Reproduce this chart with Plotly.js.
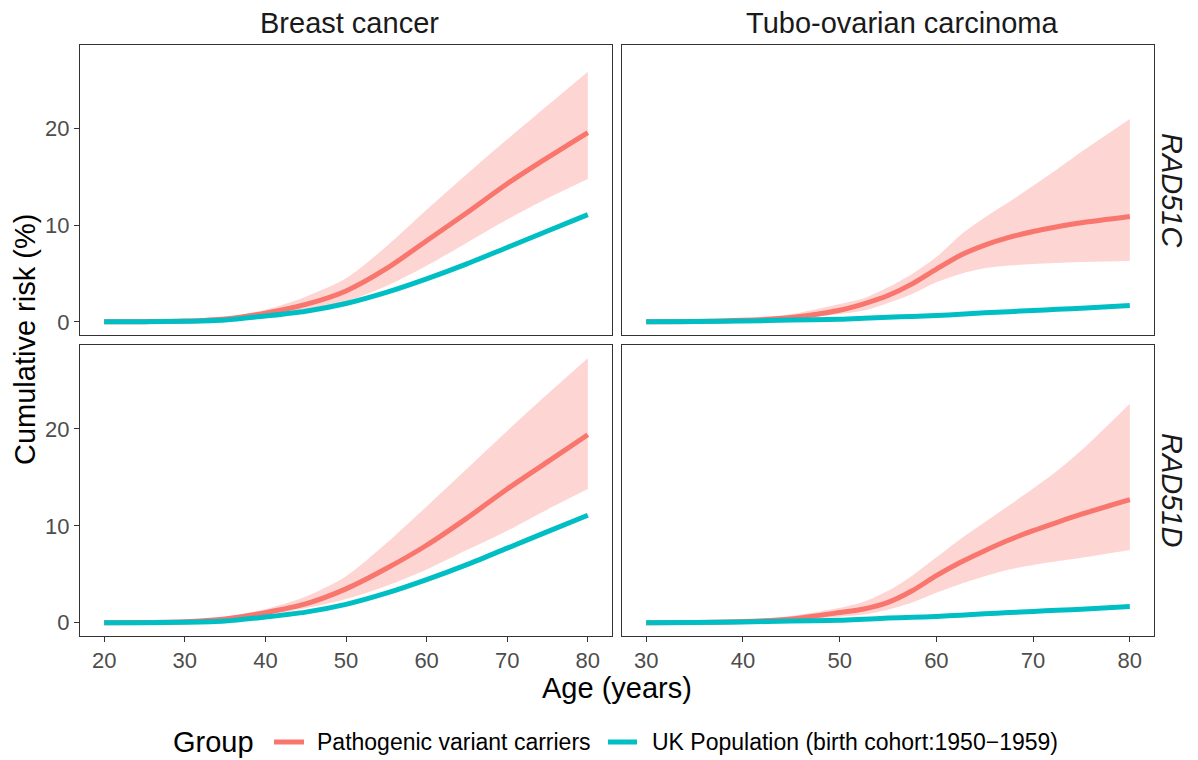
<!DOCTYPE html>
<html>
<head>
<meta charset="utf-8">
<script src="https://cdn.plot.ly/plotly-3.0.1.min.js"></script>
<style>html,body{margin:0;padding:0;background:#fff}#chart{width:1198px;height:760px}</style>
</head>
<body>
<div id="chart"></div>
<script>
// ---- data ----
const breastAges = [20, 25, 30, 35, 40, 45, 50, 55, 60, 65, 70, 75, 80];
const ovarianAges = [30, 35, 40, 45, 50, 52.5, 55, 57.5, 60, 62.5, 65, 67.5, 70, 72.5, 75, 80];

const groupNames = ['Pathogenic variant carriers', 'UK Population (birth cohort:1950\u22121959)'];
const legendTitle = 'Group';
const columnLabels = ['Breast cancer', 'Tubo-ovarian carcinoma'];
const rowLabels = ['RAD51C', 'RAD51D'];
const xTitle = 'Age (years)';
const yTitle = 'Cumulative risk (%)';

// Breast cancer, RAD51C carriers
const brC_est   = [0, 0.02, 0.08, 0.3, 0.9, 1.8, 3.2, 5.5, 8.4, 11.3, 14.3, 17.0, 19.6];
const brC_upper = [0, 0.03, 0.12, 0.45, 1.25, 2.6, 4.5, 7.8, 11.6, 15.3, 18.9, 22.4, 25.9];
const brC_lower = [0, 0.01, 0.05, 0.2, 0.65, 1.3, 2.1, 3.7, 5.8, 8.2, 10.6, 12.8, 14.8];
// Breast cancer, RAD51D carriers
const brD_est   = [0, 0.03, 0.1, 0.4, 1.05, 1.95, 3.5, 5.6, 8.0, 10.8, 13.8, 16.6, 19.4];
const brD_upper = [0, 0.05, 0.15, 0.6, 1.4, 2.7, 4.8, 8.2, 12.0, 15.9, 19.8, 23.6, 27.3];
const brD_lower = [0, 0.02, 0.07, 0.28, 0.8, 1.5, 2.45, 3.8, 5.5, 7.5, 9.5, 11.7, 13.8];
// Breast cancer, UK population
const brUK = [0, 0.01, 0.05, 0.18, 0.6, 1.1, 1.9, 3.05, 4.45, 6.0, 7.7, 9.4, 11.1];

// Tubo-ovarian carcinoma, RAD51C carriers
const ovC_est   = [0, 0.03, 0.15, 0.45, 1.2, 1.86, 2.72, 3.93, 5.45, 6.9, 7.95, 8.75, 9.35, 9.85, 10.25, 10.9];
const ovC_upper = [0, 0.05, 0.25, 0.8, 1.85, 2.45, 3.58, 4.96, 6.7, 9.0, 10.8, 12.4, 14.1, 15.8, 17.6, 21.0];
const ovC_lower = [0, 0.02, 0.1, 0.3, 0.8, 1.17, 1.96, 2.89, 4.1, 4.96, 5.54, 5.82, 6.0, 6.1, 6.2, 6.3];
// Tubo-ovarian carcinoma, RAD51D carriers
const ovD_est   = [0, 0.03, 0.12, 0.4, 1.05, 1.42, 2.1, 3.3, 4.86, 6.24, 7.44, 8.54, 9.5, 10.37, 11.2, 12.7];
const ovD_upper = [0, 0.05, 0.2, 0.7, 1.55, 2.17, 3.3, 4.86, 6.75, 8.65, 10.37, 12.1, 13.85, 15.7, 17.8, 22.6];
const ovD_lower = [0, 0.02, 0.08, 0.25, 0.62, 0.85, 1.35, 2.1, 3.1, 4.0, 4.8, 5.5, 5.96, 6.34, 6.7, 7.5];
// Tubo-ovarian carcinoma, UK population
const ovUK = [0, 0.03, 0.08, 0.18, 0.27, 0.37, 0.48, 0.56, 0.65, 0.78, 0.93, 1.05, 1.17, 1.3, 1.4, 1.69];

const yTicks = [0, 10, 20];
const breastTicks = [20, 30, 40, 50, 60, 70, 80];
const ovarianTicks = [30, 40, 50, 60, 70, 80];

// ---- styles ----
const RED = '#F8766D', TEAL = '#00BFC4', FILL = 'rgba(248,118,109,0.3)';
const FONT = 'Liberation Sans, Arial, sans-serif';
const LW = 5;

const panels = [
  {ax: '', ages: breastAges, est: brC_est, up: brC_upper, lo: brC_lower, uk: brUK},
  {ax: '2', ages: ovarianAges, est: ovC_est, up: ovC_upper, lo: ovC_lower, uk: ovUK},
  {ax: '3', ages: breastAges, est: brD_est, up: brD_upper, lo: brD_lower, uk: brUK},
  {ax: '4', ages: ovarianAges, est: ovD_est, up: ovD_upper, lo: ovD_lower, uk: ovUK}
];

const traces = [];
panels.forEach(p => {
  const xa = 'x' + p.ax, ya = 'y' + p.ax;
  traces.push({x: p.ages, y: p.lo, xaxis: xa, yaxis: ya, type: 'scatter', mode: 'lines',
    line: {width: 0, shape: 'spline', smoothing: 0.8, color: FILL}, hoverinfo: 'skip'});
  traces.push({x: p.ages, y: p.up, xaxis: xa, yaxis: ya, type: 'scatter', mode: 'lines',
    line: {width: 0, shape: 'spline', smoothing: 0.8, color: FILL}, fill: 'tonexty', fillcolor: FILL,
    hoverinfo: 'skip'});
  traces.push({x: p.ages, y: p.est, xaxis: xa, yaxis: ya, type: 'scatter', mode: 'lines',
    name: groupNames[0], line: {width: LW, color: RED, shape: 'spline', smoothing: 0.8}});
  traces.push({x: p.ages, y: p.uk, xaxis: xa, yaxis: ya, type: 'scatter', mode: 'lines',
    name: groupNames[1], line: {width: LW, color: TEAL, shape: 'spline', smoothing: 0.8}});
});

const W = 1198, H = 760;
const colX = [[80, 612], [622, 1154]];
const rowY = [[45, 335], [345, 636]];
const dx = c => [colX[c][0] / W, colX[c][1] / W];
const dy = r => [1 - rowY[r][1] / H, 1 - rowY[r][0] / H];
const px = v => v / W, py = v => 1 - v / H;

const yRange = [-1.365, 28.665];
const xRanges = [[17, 83], [27.5, 82.5]];
const tickFont = {family: FONT, size: 22, color: '#4D4D4D'};

function axId(c, r) { const n = r * 2 + c + 1; return n === 1 ? '' : String(n); }
function xAxis(c, r) {
  const bottom = r === 1;
  return {
    domain: dx(c), anchor: 'y' + axId(c, r),
    range: xRanges[c], showgrid: false, zeroline: false,
    showline: true, mirror: true, linecolor: '#333333', linewidth: 1,
    tickmode: 'array', tickvals: c === 0 ? breastTicks : ovarianTicks,
    ticks: bottom ? 'outside' : '', ticklen: 5, tickcolor: '#333333',
    showticklabels: bottom, tickfont: tickFont, fixedrange: true
  };
}
function yAxis(c, r) {
  const left = c === 0;
  return {
    domain: dy(r), anchor: 'x' + axId(c, r),
    range: yRange, showgrid: false, zeroline: false,
    showline: true, mirror: true, linecolor: '#333333', linewidth: 1,
    tickmode: 'array', tickvals: yTicks,
    ticks: left ? 'outside' : '', ticklen: 5, tickcolor: '#333333',
    showticklabels: left, tickfont: tickFont, fixedrange: true
  };
}

const base = {xref: 'paper', yref: 'paper', showarrow: false, xanchor: 'center', yanchor: 'middle'};
const stripFont = {family: FONT, size: 29, color: '#1A1A1A'};
const titleFont = {family: FONT, size: 29, color: '#000000'};
const legFont = {family: FONT, size: 23, color: '#000000'};
const annotations = [
  {text: columnLabels[0], x: px(349), y: py(23), font: stripFont},
  {text: columnLabels[1], x: px(902), y: py(23), font: stripFont},
  {text: '<i>' + rowLabels[0] + '</i>', x: px(1172), y: py(190), textangle: 90, font: stripFont},
  {text: '<i>' + rowLabels[1] + '</i>', x: px(1172), y: py(490), textangle: 90, font: stripFont},
  {text: yTitle, x: px(25), y: py(340), textangle: -90, font: titleFont},
  {text: xTitle, x: px(617), y: py(688), font: titleFont},
  // legend
  {text: legendTitle, x: px(171), y: py(742), xanchor: 'left', font: titleFont},
  {text: groupNames[0], x: px(315), y: py(742), xanchor: 'left', font: legFont},
  {text: groupNames[1], x: px(650), y: py(742), xanchor: 'left', font: legFont}
].map(a => Object.assign({}, base, a));

const shapes = [
  {type: 'line', xref: 'paper', yref: 'paper', x0: px(274), x1: px(304), y0: py(742), y1: py(742),
    line: {color: RED, width: LW}},
  {type: 'line', xref: 'paper', yref: 'paper', x0: px(608), x1: px(637), y0: py(742), y1: py(742),
    line: {color: TEAL, width: LW}}
];

const layout = {
  width: W, height: H,
  margin: {l: 0, r: 0, t: 0, b: 0},
  paper_bgcolor: '#ffffff', plot_bgcolor: '#ffffff',
  font: {family: FONT},
  showlegend: false,
  xaxis: xAxis(0, 0), yaxis: yAxis(0, 0),
  xaxis2: xAxis(1, 0), yaxis2: yAxis(1, 0),
  xaxis3: xAxis(0, 1), yaxis3: yAxis(0, 1),
  xaxis4: xAxis(1, 1), yaxis4: yAxis(1, 1),
  annotations: annotations,
  shapes: shapes
};

Plotly.newPlot('chart', traces, layout, {displayModeBar: false, staticPlot: true});
</script>
</body>
</html>
